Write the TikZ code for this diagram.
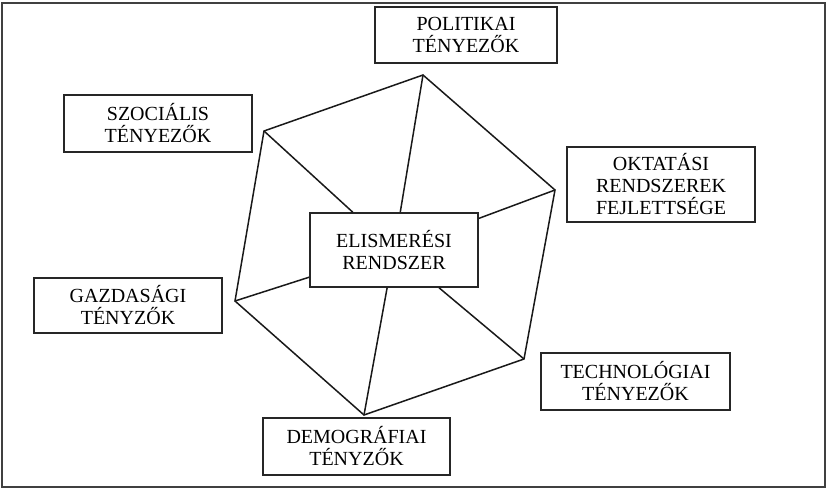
\documentclass[tikz,border=0pt]{standalone}
\usepackage{fontspec}
\setmainfont{Liberation Serif}
\begin{document}
\begin{tikzpicture}[x=1pt,y=-1pt,
  box/.style={draw=black!85,line width=1.6pt,rectangle,inner sep=0pt,align=center,
    font=\fontsize{20}{22}\selectfont,text=black},
  edge/.style={draw=black!90,line width=1.5pt,line join=miter}]
\useasboundingbox (0,0) rectangle (832,492);
\draw[black!75,line width=1.8pt] (2,3) rectangle (825,487);
\node[box,minimum width=182pt,minimum height=56pt] (pol) at (466,35) {POLITIKAI\\TÉNYEZŐK};
\node[box,minimum width=188pt,minimum height=57pt] (soc) at (158,123.5) {SZOCIÁLIS\\TÉNYEZŐK};
\node[box,minimum width=188pt,minimum height=75pt] (okt) at (661,184.5) {OKTATÁSI\\RENDSZEREK\\FEJLETTSÉGE};
\node[box,minimum width=168pt,minimum height=74pt] (eli) at (394,250) {ELISMERÉSI\\RENDSZER};
\node[box,minimum width=188pt,minimum height=55pt] (gaz) at (128,305.5) {GAZDASÁGI\\TÉNYZŐK};
\node[box,minimum width=189pt,minimum height=57pt] (tec) at (635.5,381.5) {TECHNOLÓGIAI\\TÉNYEZŐK};
\node[box,minimum width=187pt,minimum height=57pt] (dem) at (356.5,446.5) {DEMOGRÁFIAI\\TÉNYZŐK};
\coordinate (vt) at (423,75);
\coordinate (vul) at (264,131);
\coordinate (vl) at (235,301);
\coordinate (vb) at (364,415);
\coordinate (vlr) at (524,359);
\coordinate (vr) at (555,190);
\draw[edge] (vt) -- (vul) -- (vl) -- (vb) -- (vlr) -- (vr) -- cycle;
\foreach \v in {vt,vul,vl,vb,vlr,vr} \draw[edge] (\v) -- (eli);
\end{tikzpicture}
\end{document}
